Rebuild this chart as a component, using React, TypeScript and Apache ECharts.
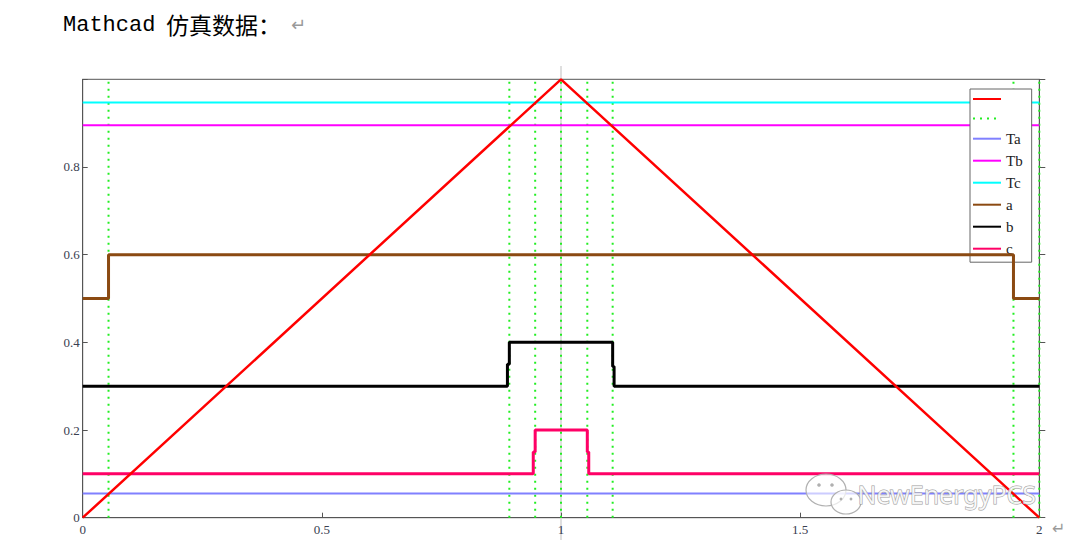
import React, { useEffect, useRef } from "react";
import * as echarts from "echarts";

// ---- data ----
const triX = [0, 1, 2];
const triY = [0, 1, 0];
const TA = 0.055;
const TB = 0.895;
const TC = 0.947;
const switchX = [0.054, 0.892, 0.946, 1.0, 1.055, 1.108, 1.946, 2.0];
const aX = [0, 0.054, 0.054, 1.946, 1.946, 2];
const aY = [0.5, 0.5, 0.6, 0.6, 0.5, 0.5];
const bX = [0, 0.888, 0.888, 0.892, 0.892, 1.108, 1.108, 1.111, 1.111, 2];
const bY = [0.3, 0.3, 0.35, 0.35, 0.4, 0.4, 0.345, 0.345, 0.3, 0.3];
const cX = [0, 0.942, 0.942, 0.946, 0.946, 1.055, 1.055, 1.058, 1.058, 2];
const cY = [0.1, 0.1, 0.15, 0.15, 0.2, 0.2, 0.15, 0.15, 0.1, 0.1];
const xRange = [0, 2];
const yRange = [0, 1];
const legendNames = ["tri", "sw", "Ta", "Tb", "Tc", "a", "b", "c"];

const zip = (xs: number[], ys: number[]) => xs.map((x, i) => [x, ys[i]]);

export default function App() {
  const ref = useRef<HTMLDivElement>(null);
  useEffect(() => {
    if (!ref.current) return;
    const chart = echarts.init(ref.current, null, { renderer: "svg", width: 1080, height: 547 });

    const swData: any[] = [];
    switchX.forEach((t) => {
      swData.push([t, 0], [t, 1], [t, "-"]);
    });

    const labelFont = { fontFamily: "Liberation Serif", fontSize: 13, color: "#3a4050" };

    const baseGraphic = (px: number) => [
      {
        type: "line",
        z: 0,
        shape: { x1: px, y1: 66, x2: px, y2: 540 },
        style: { stroke: "#d4d4d4", lineWidth: 1.5 },
      },
      {
        type: "text",
        left: 63,
        top: 14,
        style: { text: "Mathcad", fontSize: 22, fontFamily: "Liberation Mono", fill: "#000" },
      },
      {
        type: "text",
        left: 166,
        top: 12,
        style: { text: "仿真数据：", fontSize: 23, fontFamily: "Noto Sans CJK SC", fill: "#000" },
      },
      {
        type: "text",
        left: 291,
        top: 15,
        style: { text: "↵", fontSize: 18, fontFamily: "DejaVu Sans", fill: "#9a9a9a" },
      },
      {
        type: "text",
        left: 1052,
        top: 520,
        style: { text: "↵", fontSize: 16, fontFamily: "DejaVu Sans", fill: "#9a9a9a" },
      },
      // watermark (WeChat-like bubbles + text)
      {
        type: "ellipse",
        z: 10,
        shape: { cx: 826, cy: 490, rx: 20, ry: 16 },
        style: { fill: "rgba(255,255,255,0.6)", stroke: "#b0b0b0", lineWidth: 1.2 },
      },
      {
        type: "ellipse",
        z: 11,
        shape: { cx: 846, cy: 502, rx: 15, ry: 12 },
        style: { fill: "rgba(255,255,255,0.7)", stroke: "#b0b0b0", lineWidth: 1.2 },
      },
      { type: "circle", z: 12, shape: { cx: 819, cy: 485, r: 1.8 }, style: { fill: "#b0b0b0" } },
      { type: "circle", z: 12, shape: { cx: 832, cy: 485, r: 1.8 }, style: { fill: "#b0b0b0" } },
      { type: "circle", z: 12, shape: { cx: 841, cy: 499, r: 1.4 }, style: { fill: "#b0b0b0" } },
      { type: "circle", z: 12, shape: { cx: 851, cy: 499, r: 1.4 }, style: { fill: "#b0b0b0" } },
      {
        type: "text",
        z: 12,
        left: 857,
        top: 481,
        style: {
          text: "NewEnergyPCS",
          fontSize: 25,
          fontFamily: "Noto Sans",
          fill: "rgba(255,255,255,0.8)",
          stroke: "#9a9a9a",
          lineWidth: 1,
        },
      },
    ];

    const lineSeries = (name: string, data: any[], color: string, width: number, type: any = "solid", z = 2) => ({
      name,
      type: "line",
      data,
      symbol: "none",
      z,
      connectNulls: false,
      lineStyle: { color, width, type },
      itemStyle: { color },
      emphasis: { disabled: true },
    });

    chart.setOption({
      animation: false,
      backgroundColor: "#ffffff",
      grid: { left: 82.7, right: 40.7, top: 79.3, bottom: 29.3, show: true, borderColor: "#555", borderWidth: 1 },
      legend: {
        data: legendNames,
        orient: "vertical",
        left: 970,
        top: 89,
        itemWidth: 28,
        itemHeight: 14,
        itemGap: 7,
        padding: [3, 9, 6, 2],
        backgroundColor: "#fff",
        borderColor: "#666",
        borderWidth: 1,
        selectedMode: false,
        itemStyle: { opacity: 0 },
        formatter: (n: string) => (n === "tri" || n === "sw" ? "" : n),
        textStyle: { fontFamily: "Liberation Serif", fontSize: 15, color: "#222" },
      },
      xAxis: [
        {
          type: "value",
          min: xRange[0],
          max: xRange[1],
          interval: 0.5,
          axisLine: { show: true, lineStyle: { color: "#555" } },
          axisTick: { show: true, inside: true, length: 5, lineStyle: { color: "#555" } },
          axisLabel: { ...labelFont, margin: 5, formatter: (v: number) => String(v) },
          splitLine: { show: false },
        },
      ],
      yAxis: [
        {
          type: "value",
          min: yRange[0],
          max: yRange[1],
          interval: 0.2,
          axisLine: { show: true, lineStyle: { color: "#555" } },
          axisTick: { show: true, inside: true, length: 5, lineStyle: { color: "#555" } },
          axisLabel: { ...labelFont, margin: 3, formatter: (v: number) => (v >= 1 ? "" : String(Math.round(v * 10) / 10)) },
          splitLine: { show: false },
        },
        {
          type: "value",
          position: "right",
          min: yRange[0],
          max: yRange[1],
          interval: 0.2,
          axisLine: { show: true, lineStyle: { color: "#555" } },
          axisTick: { show: true, inside: false, length: 6, lineStyle: { color: "#555" } },
          axisLabel: { show: false },
          splitLine: { show: false },
        },
      ],
      series: [
        lineSeries("sw", swData, "#22ee22", 2, [2, 5], 2),
        lineSeries("Ta", [[xRange[0], TA], [xRange[1], TA]], "#8080ff", 2, "solid", 3),
        lineSeries("Tb", [[xRange[0], TB], [xRange[1], TB]], "#ff00ff", 2, "solid", 3),
        lineSeries("Tc", [[xRange[0], TC], [xRange[1], TC]], "#00ffff", 2, "solid", 3),
        lineSeries("a", zip(aX, aY), "#8b4a12", 3, "solid", 4),
        lineSeries("b", zip(bX, bY), "#000000", 3, "solid", 4),
        lineSeries("c", zip(cX, cY), "#ff0066", 3, "solid", 4),
        lineSeries("tri", zip(triX, triY), "#ff0000", 2.5, "solid", 5),
      ],
    });

    const px = chart.convertToPixel({ xAxisIndex: 0 }, 1) as number;
    chart.setOption({ graphic: baseGraphic(px) });

    return () => chart.dispose();
  }, []);

  return <div ref={ref} style={{ position: "absolute", left: 0, top: 0, width: 1080, height: 547 }} />;
}
